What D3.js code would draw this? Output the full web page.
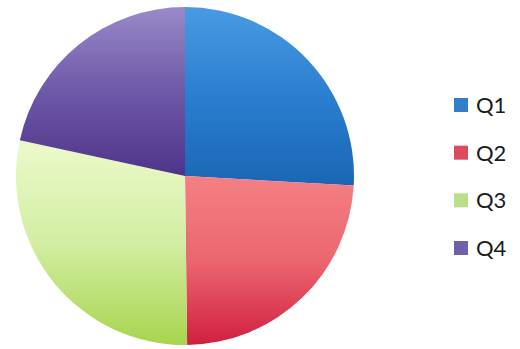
<!DOCTYPE html>
<html>
<head>
<meta charset="utf-8">
<script src="https://cdn.jsdelivr.net/npm/d3@7"></script>
<style>
  html, body { margin: 0; padding: 0; background: #fff; }
  svg { display: block; }
</style>
</head>
<body>
<svg id="chart" width="520" height="349"></svg>
<script>
// Quarterly shares
const categories = ["Q1", "Q2", "Q3", "Q4"];
const values = [25.9, 23.9, 28.6, 21.6];
// light (top), middle and dark (bottom) shade of each slice
const topColors = ["#4a9ae2", "#f48084", "#ecfacb", "#9a8aca"];
const midColors = ["#2a7ed0", "#ec6670", "#d2eea2", "#6e58a8"];
const bottomColors = ["#1a66b4", "#d01f40", "#a8d44e", "#4e3488"];
const legendColors = ["#2f7fcc", "#dc4a5c", "#b8e08a", "#7060ac"];

const width = 520, height = 349;
const cx = 185, cy = 176, radius = 169;

const svg = d3.select("#chart");
const defs = svg.append("defs");

// each slice shades from light at its own top edge to dark at its bottom edge
categories.forEach((c, i) => {
  const g = defs.append("linearGradient")
    .attr("id", "grad-" + c)
    .attr("x1", 0).attr("y1", 0)
    .attr("x2", 0).attr("y2", 1);
  g.append("stop").attr("offset", "0%").attr("stop-color", topColors[i]);
  g.append("stop").attr("offset", "50%").attr("stop-color", midColors[i]);
  g.append("stop").attr("offset", "100%").attr("stop-color", bottomColors[i]);
});

const pie = d3.pie().sort(null).value(d => d.value);
const arc = d3.arc().innerRadius(0).outerRadius(radius);
const data = categories.map((c, i) => ({ name: c, value: values[i] }));

const gPie = svg.append("g").attr("transform", `translate(${cx},${cy})`);
gPie.selectAll("path")
  .data(pie(data))
  .join("path")
  .attr("d", arc)
  .attr("fill", d => `url(#grad-${d.data.name})`)
  .attr("stroke", "none");

// Legend
const legendY = d3.scalePoint().domain(categories).range([105, 248]);
const legend = svg.append("g");
const item = legend.selectAll("g")
  .data(categories)
  .join("g")
  .attr("transform", d => `translate(454,${legendY(d)})`);
item.append("rect")
  .attr("x", 0).attr("y", -7)
  .attr("width", 14).attr("height", 14)
  .attr("fill", (d, i) => legendColors[i]);
item.append("text")
  .attr("x", 22).attr("y", 0)
  .attr("dy", "0.36em")
  .attr("font-family", "Lato, 'Open Sans', sans-serif")
  .attr("font-size", 22)
  .attr("fill", "#1a1a1a")
  .text(d => d);
</script>
</body>
</html>
